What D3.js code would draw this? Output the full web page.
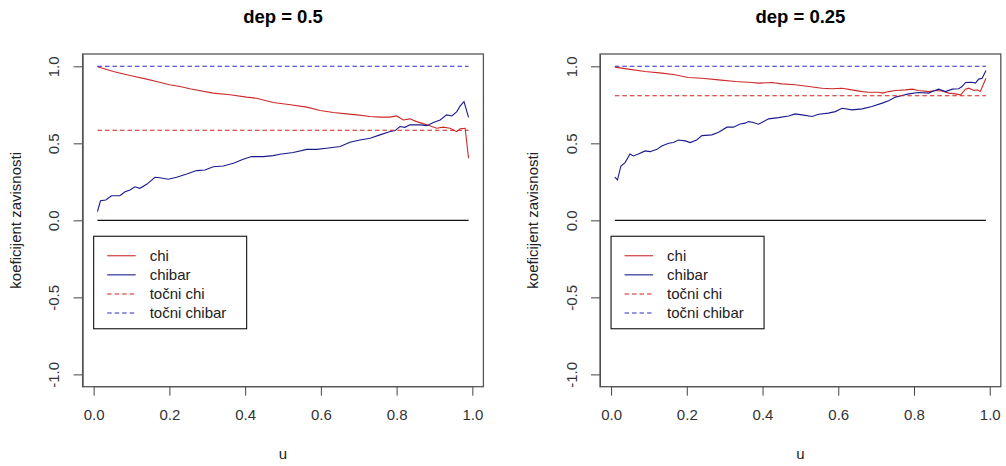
<!DOCTYPE html>
<html>
<head>
<meta charset="utf-8">
<script src="https://cdn.jsdelivr.net/npm/d3@7"></script>
<style>
  html, body { margin: 0; padding: 0; background: #fff; }
  svg { display: block; }
  text { font-family: "Liberation Sans", Arial, sans-serif; }
</style>
</head>
<body>
<svg id="chart" width="1006" height="466"></svg>
<script>
// ---------- data ----------
const panelTitles = ["dep = 0.5", "dep = 0.25"];
const exactChi = [0.585, 0.809];
const exactChibar = [1, 1];
const uRange = [0.01, 0.99];

const uChi05 = [0.01,0.052,0.096,0.14,0.166,0.2,0.228,0.254,0.316,0.36,0.404,0.43,0.474,0.51,0.563,0.598,0.633,0.668,0.695,0.73,0.756,0.783,0.8,0.818,0.835,0.853,0.88,0.906,0.923,0.941,0.959,0.968,0.981,0.99];
const chi05  = [0.997,0.966,0.94,0.917,0.901,0.88,0.869,0.854,0.826,0.815,0.8,0.793,0.765,0.754,0.735,0.713,0.7,0.691,0.685,0.674,0.67,0.67,0.678,0.652,0.659,0.641,0.62,0.598,0.605,0.598,0.576,0.594,0.598,0.403];

const uChibar05 = [0.01,0.018,0.032,0.047,0.069,0.083,0.096,0.109,0.122,0.14,0.162,0.175,0.197,0.219,0.246,0.272,0.294,0.316,0.342,0.369,0.395,0.417,0.448,0.474,0.492,0.527,0.563,0.589,0.615,0.651,0.677,0.703,0.73,0.756,0.783,0.796,0.809,0.822,0.835,0.862,0.88,0.897,0.915,0.932,0.946,0.959,0.968,0.978,0.99];
const chibar05  = [0.056,0.127,0.132,0.16,0.16,0.186,0.197,0.218,0.208,0.234,0.28,0.277,0.267,0.28,0.301,0.323,0.327,0.348,0.353,0.371,0.397,0.414,0.414,0.42,0.429,0.44,0.461,0.461,0.468,0.479,0.507,0.522,0.533,0.555,0.577,0.583,0.609,0.604,0.62,0.62,0.615,0.635,0.652,0.685,0.678,0.706,0.743,0.771,0.668];

const uChi025 = [0.01,0.046,0.09,0.134,0.169,0.204,0.24,0.284,0.328,0.372,0.389,0.425,0.451,0.486,0.522,0.557,0.583,0.61,0.636,0.663,0.68,0.707,0.716,0.733,0.751,0.777,0.795,0.812,0.839,0.856,0.874,0.892,0.909,0.923,0.936,0.945,0.958,0.967,0.975,0.99];
const chi025  = [0.995,0.982,0.966,0.956,0.945,0.927,0.923,0.912,0.901,0.895,0.891,0.895,0.886,0.88,0.869,0.858,0.854,0.858,0.847,0.836,0.832,0.832,0.826,0.836,0.843,0.847,0.852,0.843,0.836,0.843,0.84,0.826,0.821,0.815,0.852,0.858,0.843,0.847,0.836,0.923];

const uChibar025 = [0.01,0.017,0.026,0.037,0.05,0.059,0.072,0.09,0.103,0.121,0.134,0.152,0.165,0.178,0.196,0.209,0.226,0.24,0.266,0.284,0.306,0.323,0.341,0.354,0.363,0.376,0.389,0.416,0.442,0.469,0.486,0.504,0.531,0.548,0.574,0.592,0.61,0.636,0.663,0.689,0.716,0.733,0.751,0.768,0.786,0.812,0.839,0.848,0.865,0.883,0.901,0.918,0.927,0.936,0.953,0.962,0.971,0.98,0.99];
const chibar025  = [0.28,0.262,0.353,0.375,0.431,0.418,0.431,0.451,0.446,0.461,0.483,0.501,0.505,0.522,0.516,0.505,0.522,0.55,0.555,0.572,0.605,0.605,0.626,0.631,0.641,0.635,0.624,0.659,0.667,0.678,0.691,0.685,0.674,0.689,0.696,0.706,0.728,0.717,0.724,0.739,0.761,0.776,0.8,0.81,0.821,0.83,0.826,0.836,0.852,0.836,0.852,0.854,0.869,0.895,0.897,0.891,0.917,0.923,0.973];

const xTicks = [0, 0.2, 0.4, 0.6, 0.8, 1.0];
const yTicks = [-1, -0.5, 0, 0.5, 1];
const legendLabels = ["chi", "chibar", "točni chi", "točni chibar"];
const axisLabelX = "u";
const axisLabelY = "koeficijent zavisnosti";

// ---------- style ----------
const RED = "#cc2a2a", BLUE = "#1a1a8e", RED_D = "#d02020", BLUE_D = "#2a2ac8";
const DASH = "4.5,3";

const svg = d3.select("#chart");
const panels = [
  { left: 82.6, title: panelTitles[0], chiU: uChi05, chi: chi05, cbU: uChibar05, cb: chibar05, ex: exactChi[0], exb: exactChibar[0] },
  { left: 600,  title: panelTitles[1], chiU: uChi025, chi: chi025, cbU: uChibar025, cb: chibar025, ex: exactChi[1], exb: exactChibar[1] }
];
const W = 400.8, plotTop = 54, plotBottom = 386.7;

panels.forEach(p => {
  const x = d3.scaleLinear().domain([-0.0292, 1.0292]).range([p.left, p.left + W]);
  const y = d3.scaleLinear().domain([-1.08, 1.08]).range([plotBottom, plotTop]);
  const g = svg.append("g");

  // title
  g.append("text").attr("x", p.left + W / 2).attr("y", 23)
    .attr("text-anchor", "middle").attr("font-weight", "bold").attr("font-size", 18.5)
    .attr("fill", "#000").text(p.title);

  // x axis
  const xa = g.append("g").attr("transform", `translate(0,${plotBottom})`)
    .call(d3.axisBottom(x).tickValues(xTicks).tickFormat(d3.format(".1f")).tickSizeOuter(0).tickSizeInner(9).tickPadding(14));
  xa.select(".domain").attr("d", `M${x(0)},0H${x(1)}`).attr("stroke", "#444");
  xa.selectAll(".tick line").attr("stroke", "#444");
  xa.selectAll(".tick text").attr("font-size", 15).attr("fill", "#333")
    .attr("font-family", "Liberation Sans, Arial, sans-serif");

  // y axis
  const ya = g.append("g").attr("transform", `translate(${p.left},0)`)
    .call(d3.axisLeft(y).tickValues(yTicks).tickFormat(d3.format(".1f")).tickSizeOuter(0).tickSizeInner(9));
  ya.select(".domain").attr("stroke", "#444");
  ya.selectAll(".tick line").attr("stroke", "#444");
  ya.selectAll(".tick text")
    .attr("font-size", 15).attr("fill", "#333").attr("font-family", "Liberation Sans, Arial, sans-serif")
    .attr("x", null).attr("dy", null)
    .attr("text-anchor", "middle")
    .attr("transform", "translate(-23.5,0) rotate(-90)")
    .text(d => d3.format(".1f")(d).replace("−", "-"));

  // box
  g.append("rect").attr("x", p.left).attr("y", plotTop).attr("width", W).attr("height", plotBottom - plotTop)
    .attr("fill", "none").attr("stroke", "#555").attr("stroke-width", 1.3);

  // axis labels
  g.append("text").attr("x", p.left + W / 2).attr("y", 459).attr("text-anchor", "middle")
    .attr("font-size", 15).attr("fill", "#222").text(axisLabelX);
  g.append("text").attr("transform", `translate(${p.left - 62},${(plotTop + plotBottom) / 2}) rotate(-90)`)
    .attr("text-anchor", "middle").attr("font-size", 15).attr("fill", "#222").text(axisLabelY);

  const line = d3.line().x(d => x(d[0])).y(d => y(d[1]));
  const pairs = (us, vs) => us.map((u, i) => [u, vs[i]]);

  // series
  g.append("path").attr("d", line(pairs(p.chiU, p.chi))).attr("fill", "none").attr("stroke", RED).attr("stroke-width", 1.1);
  g.append("path").attr("d", line(pairs(p.cbU, p.cb))).attr("fill", "none").attr("stroke", BLUE).attr("stroke-width", 1.1);
  g.append("path").attr("d", line(uRange.map(u => [u, p.ex]))).attr("fill", "none").attr("stroke", RED_D).attr("stroke-width", 1.1).attr("stroke-dasharray", DASH);
  g.append("path").attr("d", line(uRange.map(u => [u, p.exb]))).attr("fill", "none").attr("stroke", BLUE_D).attr("stroke-width", 1.1).attr("stroke-dasharray", DASH);
  g.append("path").attr("d", line(uRange.map(u => [u, 0]))).attr("fill", "none").attr("stroke", "#111").attr("stroke-width", 1.1);

  // legend
  const lx = x(0), ly = y(-0.1) + 0.5;
  const lg = g.append("g");
  lg.append("rect").attr("x", lx).attr("y", ly).attr("width", 153).attr("height", 92.5)
    .attr("fill", "#fff").attr("stroke", "#111").attr("stroke-width", 1.1);
  const styles = [
    { c: RED, d: null }, { c: BLUE, d: null }, { c: RED_D, d: DASH }, { c: BLUE_D, d: DASH }
  ];
  legendLabels.forEach((lab, i) => {
    const cy = ly + 19.5 + i * 19.1;
    lg.append("line").attr("x1", lx + 13.5).attr("x2", lx + 42).attr("y1", cy).attr("y2", cy)
      .attr("stroke", styles[i].c).attr("stroke-width", 1.1).attr("stroke-dasharray", styles[i].d);
    lg.append("text").attr("x", lx + 56).attr("y", cy + 5.3).attr("font-size", 15).attr("fill", "#222").text(lab);
  });
});
</script>
</body>
</html>
